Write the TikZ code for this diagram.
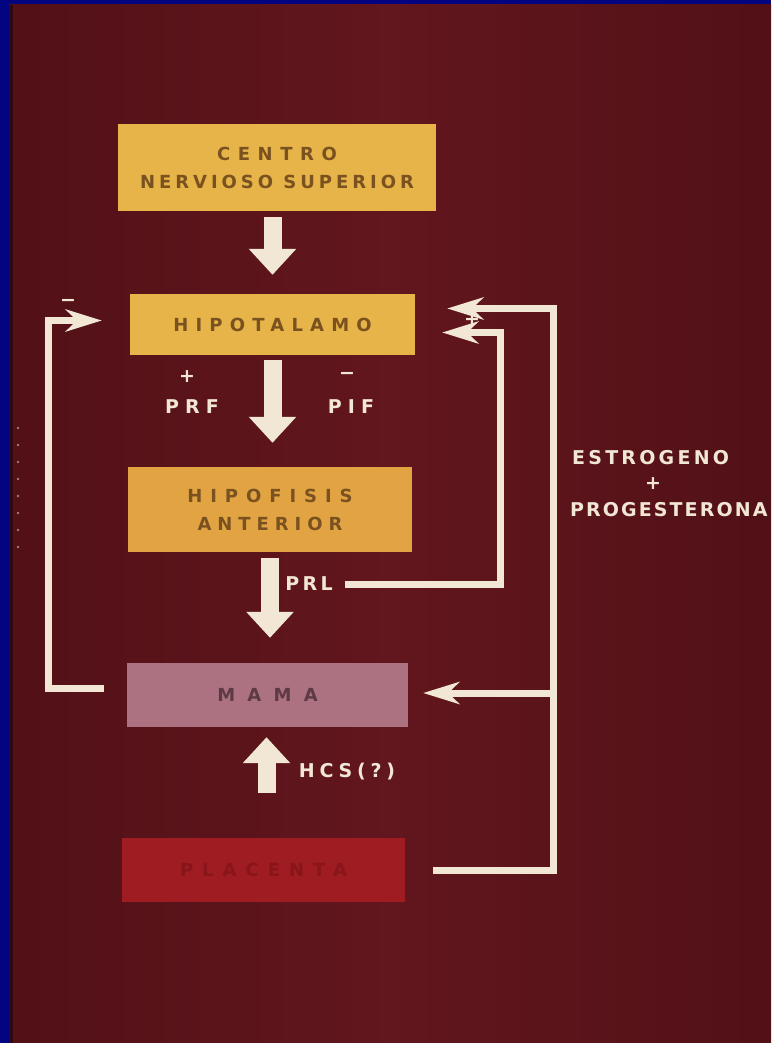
\documentclass[tikz,border=0pt]{standalone}
\usepackage{fontspec}
\usetikzlibrary{arrows.meta}
\newfontfamily\boxfont{DejaVu Sans}
\newfontfamily\labfont{DejaVu Sans}
\newcommand\lsp[1]{\addfontfeature{LetterSpace=#1}}
\definecolor{frameblue}{HTML}{020480}
\definecolor{bgdark}{HTML}{521117}
\definecolor{bgmid}{HTML}{62161D}
\definecolor{cream}{HTML}{F2E6D4}
\definecolor{ybox}{HTML}{E6B448}
\definecolor{obox}{HTML}{E2A443}
\definecolor{mbox}{HTML}{AC7282}
\definecolor{pbox}{HTML}{9E1C22}
\definecolor{ptext}{HTML}{881519}
\definecolor{btext}{HTML}{7A5220}
\definecolor{mtext}{HTML}{5E3A44}
\tikzset{
  organ/.style={inner sep=0pt, align=center, text=btext,
    font=\boxfont\bfseries\fontsize{18}{28}\selectfont},
  lab/.style={inner sep=0pt, text=cream, font=\labfont\bfseries\fontsize{19}{21}\selectfont},
  bigarrow/.style={draw=cream, line width=18pt,
    -{Triangle[length=26pt,width=46pt]}},
  fb/.style={draw=cream, line width=7pt, line join=miter,
    -{Stealth[length=36pt,width=22pt,inset=11pt]}},
}
\begin{document}
\begin{tikzpicture}[x=1pt,y=-1pt]
\useasboundingbox (0,0) rectangle (771,1043);
\fill[frameblue] (0,0) rectangle (771,1043);
\shade[left color=bgdark, right color=bgdark, middle color=bgmid] (9,5) rectangle (771,1043);
\fill[black!70!bgdark, opacity=0.6] (9,5) rectangle (13,1043);
\clip (0,0) rectangle (771,1043);
% boxes
\node[organ, fill=ybox, minimum width=318pt, minimum height=87pt] (centro) at (277,167.5)
  {{\lsp{42}CENTRO}\\{\lsp{22}NERVIOSO SUPERIOR}};
\node[organ, fill=ybox, minimum width=285pt, minimum height=61pt] (hipo) at (272.5,324.5)
  {\lsp{40}HIPOTALAMO};
\node[organ, fill=obox, minimum width=284pt, minimum height=85pt] (hipof) at (270,509.5)
  {{\lsp{44}HIPOFISIS}\\{\lsp{33}ANTERIOR}};
\node[organ, fill=mbox, text=mtext, minimum width=281pt, minimum height=64pt] (mama) at (267.5,695)
  {\lsp{68}MAMA};
\node[organ, fill=pbox, text=ptext, minimum width=283pt, minimum height=64pt] (plac) at (263.5,870)
  {\lsp{50}PLACENTA};
% big arrows
\draw[bigarrow, shorten <=6pt, shorten >=19pt] (hipo.north |- centro.south) -- (hipo.north);
\draw[bigarrow, shorten <=5pt, shorten >=24pt] (hipo.south) -- (hipo.south |- hipof.north);
\draw[bigarrow, shorten <=6pt, shorten >=25pt] (hipof.south) -- (hipof.south |- mama.north);
\draw[bigarrow, shorten <=45pt, shorten >=10pt] ([xshift=-1pt]plac.north -| mama.south) -- ([xshift=-1pt]mama.south);
% labels
\node[lab] (plus1) at (187,377) {+};
\node[lab, font=\labfont\bfseries\fontsize{19}{21}\selectfont\lsp{32}] (prf) at (192,407) {PRF};
\node[lab] (minus1) at (347,376) {\textminus};
\node[lab, font=\labfont\bfseries\fontsize{19}{21}\selectfont\lsp{32}] (pif) at (351,407) {PIF};
\node[lab, font=\labfont\bfseries\fontsize{19}{21}\selectfont\lsp{18}] (prl) at (309,584) {PRL};
\node[lab, font=\labfont\bfseries\fontsize{19}{21}\selectfont\lsp{25}] (hcs) at (347,772) {HCS(?)};
\node[lab] (minus2) at (68,303) {\textminus};
\node[lab] (plus2) at (472,320) {+};
\node[lab, anchor=west, font=\labfont\bfseries\fontsize{19}{21}\selectfont\lsp{17}] (estr) at (572,458) {ESTROGENO};
\node[lab] (plus3) at (653,484) {+};
\node[lab, anchor=west, font=\labfont\bfseries\fontsize{19}{21}\selectfont\lsp{11}] (prog) at (570,510) {PROGESTERONA};
% feedback connectors
\coordinate (lc) at (48,688);
\coordinate (rc1) at (500,582);
\coordinate (rc2) at (553,870);
\coordinate (br) at (553,693);
\coordinate (t1) at ([xshift=-28pt,yshift=4pt]hipo.west);
\coordinate (t2) at ([xshift=27pt,yshift=-8pt]hipo.east);
\coordinate (t3) at ([xshift=32pt,yshift=16pt]hipo.east);
\coordinate (t4) at ([xshift=15pt]mama.east);
\draw[fb] ([xshift=-23pt,yshift=7pt]mama.west) -- (lc) |- (t1);
\draw[fb] ([xshift=12pt]prl.east) -| (rc1 |- t2) -- (t2);
\draw[fb] ([xshift=28pt]plac.east) -- (rc2) |- (t3);
\draw[fb] (br) -- (br -| t4);
% faint dots at left margin
\foreach \yy in {428,445,462,479,496,513,530,547}
  \fill[cream, opacity=0.5] (18,\yy) circle (1.3pt);
\end{tikzpicture}
\end{document}
